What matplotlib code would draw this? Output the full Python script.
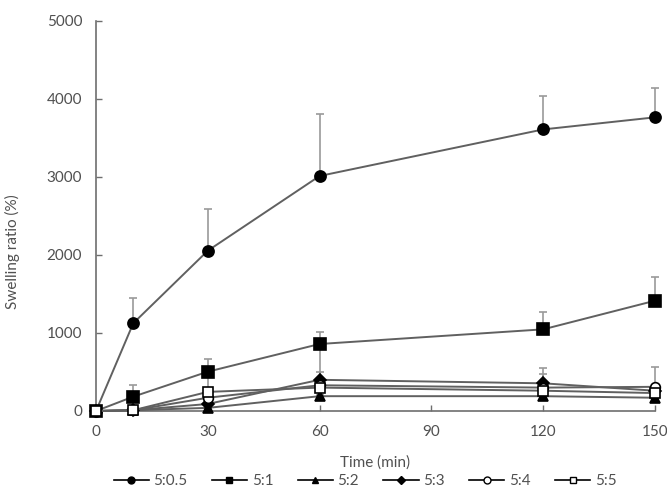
import matplotlib
matplotlib.use("Agg")
import matplotlib.pyplot as plt

plt.rcParams['font.family'] = ['Lato', 'DejaVu Sans']

# time points (min)
time = [0, 10, 30, 60, 120, 150]

labels = ['5:0.5', '5:1', '5:2', '5:3', '5:4', '5:5']

# swelling ratio (%) and upper error bars
r_05 = [0, 1125, 2055, 3013, 3610, 3765]
e_05 = [0, 320, 540, 790, 430, 380]
r_1 = [0, 184, 504, 859, 1047, 1414]
e_1 = [0, 150, 160, 160, 220, 310]
r_2 = [0, 10, 40, 190, 190, 170]
e_2 = [0, 0, 0, 20, 20, 20]
r_3 = [0, 10, 90, 400, 355, 260]
e_3 = [0, 0, 0, 100, 200, 0]
r_4 = [0, 10, 170, 330, 300, 310]
e_4 = [0, 0, 0, 520, 180, 250]
r_5 = [0, 10, 245, 300, 260, 230]
e_5 = [0, 0, 260, 0, 0, 0]

series = [r_05, r_1, r_2, r_3, r_4, r_5]
errors = [e_05, e_1, e_2, e_3, e_4, e_5]
markers = ['o', 's', '^', 'D', 'o', 's']
msizes = [8, 8, 7.5, 6, 7, 7.5]
faces = ['black', 'black', 'black', 'black', 'white', 'white']

fig = plt.figure(figsize=(6.67, 4.88), dpi=100)
ax = fig.add_axes([96 / 667, 1 - 411 / 488, (655 - 96) / 667, (411 - 21) / 488])

line_col = '#606060'
err_col = '#9a9a9a'
txt_col = '#505050'
for y, e, m, ms, fc, lab in zip(series, errors, markers, msizes, faces, labels):
    ax.errorbar(time, y, yerr=[[0] * len(e), e], fmt='none', ecolor=err_col,
                elinewidth=1.2, capsize=3, capthick=1.2, clip_on=False, zorder=2)
    ax.plot(time, y, color=line_col, lw=1.4, marker=m, ms=ms,
            mfc=fc, mec='black', mew=1.2, clip_on=False, zorder=3, label=lab)

ax.set_xlim(0, 150)
ax.set_ylim(0, 5000)
ax.set_xticks(range(0, 151, 30))
ax.set_yticks(range(0, 5001, 1000))

for s in ['top', 'right']:
    ax.spines[s].set_visible(False)
for s in ['left', 'bottom']:
    ax.spines[s].set_color('#6e6e6e')
    ax.spines[s].set_linewidth(1.2)
ax.tick_params(direction='in', length=4, width=1, color='#6e6e6e',
               labelsize=11, labelcolor=txt_col, pad=10)

ax.set_xlabel('Time (min)', fontsize=11, color=txt_col)
ax.xaxis.set_label_coords(0.5, -(455 - 411) / 390)
ax.set_ylabel('Swelling ratio (%)', fontsize=11, color=txt_col)
ax.yaxis.set_label_coords(-(96 - 20) / 559, (411 - 252) / 390)

# legend with small markers, as in the original
leg_handles = []
for m, fc in zip(markers, faces):
    h, = ax.plot([], [], color='black', lw=1.2, marker=m,
                 ms=5 if m != 'D' else 4, mfc=fc, mec='black', mew=1)
    leg_handles.append(h)
fig.legend(leg_handles, labels, loc='center', ncol=6, frameon=False,
           bbox_to_anchor=(365 / 667, 1 - 481 / 488), fontsize=11,
           handlelength=2.3, columnspacing=1.6, handletextpad=0.3,
           labelcolor=txt_col)

fig.savefig('out.png', dpi=100)
